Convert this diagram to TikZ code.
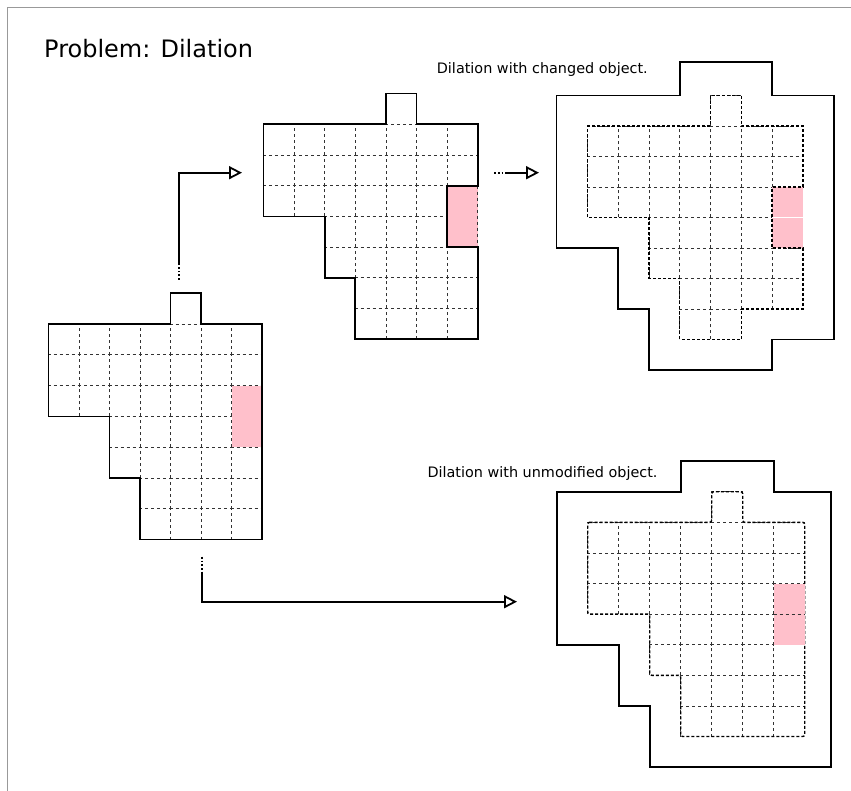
\documentclass[tikz,border=0pt]{standalone}
\usepackage{fontspec}
\setmainfont{DejaVu Sans}
\usetikzlibrary{arrows.meta,positioning}
\definecolor{cellpink}{RGB}{255,192,203}

\begin{document}
\begin{tikzpicture}[x=1pt,y=-1pt,
  cell/.style={black!80,line width=.7pt,dash pattern=on 3pt off 3pt},
  outline/.style={black,line width=1.7pt},
  dilated/.style={black,line width=1.4pt,dash pattern=on 3pt off 2pt},
  flow/.style={black,line width=1.8pt},
  tip/.style={-{Triangle[open,length=13pt,width=13pt]}},
  label/.style={anchor=base west,inner sep=0pt,font=\fontsize{14.4}{17}\selectfont}]
\useasboundingbox (0,0) rectangle (851,791);
% page frame
\draw[gray!80,line width=1pt] (7.5,791) -- (7.5,8) -- (851,8);
\node[label,font=\fontsize{24}{28}\selectfont] (title) at (44,58) {Problem: Dilation};
\node[label] (changedlbl) at (436.7,74) {Dilation with changed object.};
\node[label] (unmodlbl) at (427.3,477) {Dilation with unmodified object.};

% original object
\begin{scope}[shift={(48.5,324)},x=30.5pt,y=-30.8pt]
\foreach \r/\a/\b in {-1/4/4,0/0/6,1/0/6,2/0/6,3/2/6,4/2/6,5/3/6,6/3/6}
  \foreach \c in {\a,...,\b} \draw[cell] (\c,\r+1) -- (\c,\r) -- (\c+1,\r);
\fill[cellpink] (6,2) rectangle (7,4);
\draw[outline] (0,0) -- (4,0) -- (4,-1) -- (5,-1) -- (5,0) -- (7,0) -- (7,7) -- (3,7) -- (3,5) -- (2,5) -- (2,3) -- (0,3) -- cycle;
\end{scope}

% changed object
\begin{scope}[shift={(263.5,124.3)},x=30.6pt,y=-30.7pt]
\foreach \r/\a/\b in {-1/4/4,0/0/6,1/0/6,2/0/6,3/2/6,4/2/6,5/3/6,6/3/6}
  \foreach \c in {\a,...,\b} \draw[cell] (\c,\r+1) -- (\c,\r) -- (\c+1,\r);
\fill[cellpink] (6,2) rectangle (7,4);
\draw[cell] (7,2) -- (7,4);
\draw[outline] (0,0) -- (4,0) -- (4,-1) -- (5,-1) -- (5,0) -- (7,0) -- (7,2) -- (6,2) -- (6,4) -- (7,4) -- (7,7) -- (3,7) -- (3,5) -- (2,5) -- (2,3) -- (0,3) -- cycle;
\end{scope}

% dilation of the changed object
\begin{scope}[shift={(587.3,126)},x=30.8pt,y=-30.5pt]
\foreach \r/\a/\b in {-1/4/4,0/0/6,1/0/6,2/0/5,3/2/5,4/2/6,5/3/6,6/3/4}
  \foreach \c in {\a,...,\b} \draw[cell] (\c,\r+1) -- (\c,\r) -- (\c+1,\r);
\fill[cellpink] (6,2) rectangle (7,2.97);
\fill[cellpink] (6,3.03) rectangle (7,4);
\draw[dilated] (0,0) -- (4,0) -- (4,-1) -- (5,-1) -- (5,0) -- (7,0) -- (7,2) -- (6,2) -- (6,4) -- (7,4) -- (7,6) -- (5,6) -- (5,7) -- (3,7) -- (3,5) -- (2,5) -- (2,3) -- (0,3) -- cycle;
\draw[outline] (-1,-1) -- (3,-1) -- (3,-2.1) -- (6,-2.1) -- (6,-1) -- (8,-1) -- (8,7) -- (6,7) -- (6,8) -- (2,8) -- (2,6) -- (1,6) -- (1,4) -- (-1,4) -- cycle;
\end{scope}

% dilation of the unmodified object
\begin{scope}[shift={(587.7,522.3)},x=31pt,y=-30.6pt]
\foreach \r/\a/\b in {-1/4/4,0/0/6,1/0/6,2/0/6,3/2/6,4/2/6,5/3/6,6/3/6}
  \foreach \c in {\a,...,\b} \draw[cell] (\c,\r+1) -- (\c,\r) -- (\c+1,\r);
\draw[dilated,rounded corners=2pt] (0,0) -- (4,0) -- (4,-1) -- (5,-1) -- (5,0) -- (7,0) -- (7,7) -- (3,7) -- (3,5) -- (2,5) -- (2,3) -- (0,3) -- cycle;
\fill[cellpink] (6,2) rectangle (7,4);
\draw[cell] (6,3) -- (7,3);
\draw[outline] (-1,-1) -- (3,-1) -- (3,-2) -- (6,-2) -- (6,-1) -- (7.85,-1) -- (7.85,8) -- (2,8) -- (2,6) -- (1,6) -- (1,4) -- (-1,4) -- cycle;
\end{scope}

% arrows
\coordinate (upTail) at (179,280);
\coordinate (upBend) at (179,265);
\coordinate (upHead) at (242,172.7);
\draw[flow,dotted] (upTail) -- (upBend);
\draw[flow,tip] (upBend) |- (upHead);
\coordinate (midTail) at (494,172.7);
\coordinate (midBend) at (507,172.7);
\coordinate (midHead) at (539,172.7);
\draw[flow,dotted] (midTail) -- (midBend);
\draw[flow,tip] (midBend) -- (midHead);
\coordinate (lowTail) at (202.3,556.7);
\coordinate (lowBend) at (202.3,571.7);
\coordinate (lowHead) at (517,601.7);
\draw[flow,dotted] (lowTail) -- (lowBend);
\draw[flow,tip] (lowBend) |- (lowHead);
\end{tikzpicture}
\end{document}
